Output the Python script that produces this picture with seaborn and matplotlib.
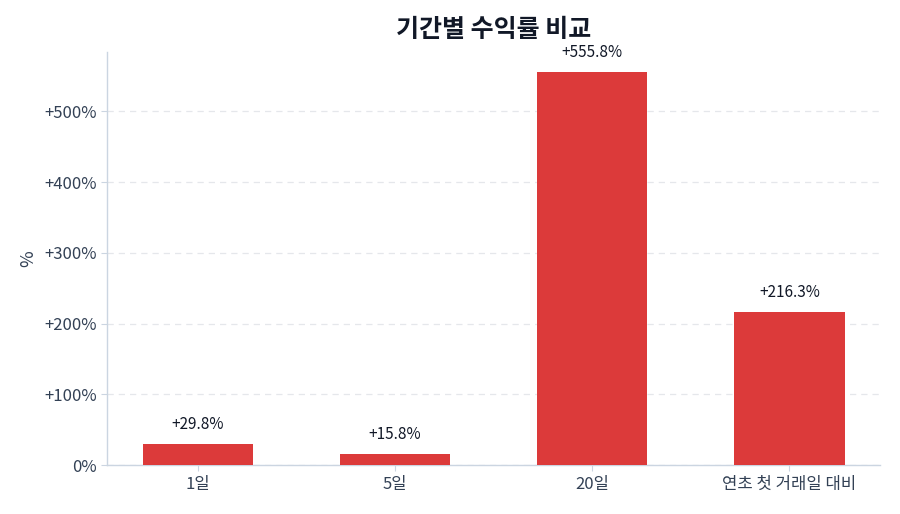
import matplotlib
matplotlib.use("Agg")
import matplotlib.pyplot as plt
import seaborn as sns
import pandas as pd
from matplotlib.ticker import FuncFormatter

periods = ["1일", "5일", "20일", "연초 첫 거래일 대비"]
returns = [29.8, 15.8, 555.8, 216.3]
title = "기간별 수익률 비교"
ylabel = "%"

sns.set_theme(style="white")
plt.rcParams['font.family'] = ['Noto Sans CJK KR', 'DejaVu Sans']

df = pd.DataFrame({"period": periods, "ret": returns})

fig = plt.figure(figsize=(9, 5.14), dpi=100)
ax = fig.add_axes([0.119, 0.095, 0.859, 0.804])
sns.barplot(data=df, x="period", y="ret", color="#dc3a3a", saturation=1,
            width=0.56, ax=ax, zorder=3, linewidth=0, edgecolor="none")

ax.set_xlim(-0.46, 3.46)
ax.set_ylim(0, 584)
ax.set_yticks([0, 100, 200, 300, 400, 500])
ax.yaxis.set_major_formatter(FuncFormatter(lambda v, p: f"+{v:.0f}%" if v > 0 else "0%"))
ax.grid(axis="y", linestyle=(0, (5, 4)), color="#e5e7eb", linewidth=0.9, zorder=0)
for s in ["top", "right"]:
    ax.spines[s].set_visible(False)
for s in ["left", "bottom"]:
    ax.spines[s].set_color("#cbd5e1")
    ax.spines[s].set_linewidth(1)
ax.tick_params(axis="both", colors="#cbd5e1", labelcolor="#334155", labelsize=12,
               length=4, width=0.8, left=True, bottom=True)
ax.set_xlabel("")
ax.set_ylabel(ylabel, fontsize=13, color="#334155", labelpad=5)
ax.set_title(title, fontsize=18, fontweight="bold", color="#111827", pad=11)

for i, v in enumerate(returns):
    ax.annotate(f"+{v:.1f}%", (i, v), xytext=(0, 8), textcoords="offset points",
                ha="center", va="bottom", fontsize=11, color="#111827")

fig.savefig("out.png", dpi=100)
